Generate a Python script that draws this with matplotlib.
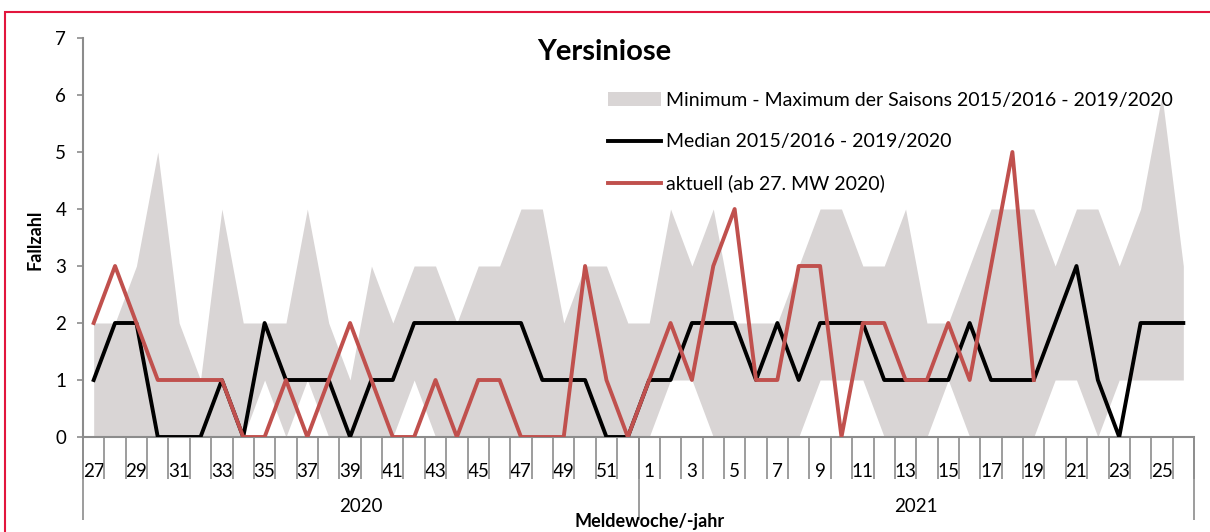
import numpy as np
import matplotlib
matplotlib.use('Agg')
import matplotlib.pyplot as plt
from matplotlib.lines import Line2D
from matplotlib.patches import Patch, Rectangle

plt.rcParams['font.family'] = ['Lato', 'DejaVu Sans']

# Meldewochen 27/2020 - 26/2021
wochen = list(range(27, 53)) + list(range(1, 27))
jahre = ['2020', '2021']

minimum = [0, 0, 0, 0, 0, 0, 0, 0, 1, 0, 1, 0, 0, 0, 0, 1, 0, 0, 0, 0, 0, 0, 0, 0, 0, 0,
           0, 1, 1, 0, 0, 0, 0, 0, 1, 1, 1, 0, 0, 0, 1, 0, 0, 0, 0, 1, 1, 0, 1, 1, 1, 1]
maximum = [2, 2, 3, 5, 2, 1, 4, 2, 2, 2, 4, 2, 1, 3, 2, 3, 3, 2, 3, 3, 4, 4, 2, 3, 3, 2,
           2, 4, 3, 4, 2, 2, 2, 3, 4, 4, 3, 3, 4, 2, 2, 3, 4, 4, 4, 3, 4, 4, 3, 4, 6, 3]
median = [1, 2, 2, 0, 0, 0, 1, 0, 2, 1, 1, 1, 0, 1, 1, 2, 2, 2, 2, 2, 2, 1, 1, 1, 0, 0,
          1, 1, 2, 2, 2, 1, 2, 1, 2, 2, 2, 1, 1, 1, 1, 2, 1, 1, 1, 2, 3, 1, 0, 2, 2, 2]
aktuell = [2, 3, 2, 1, 1, 1, 1, 0, 0, 1, 0, 1, 2, 1, 0, 0, 1, 0, 1, 1, 0, 0, 0, 3, 1, 0,
           1, 2, 1, 3, 4, 1, 1, 3, 3, 0, 2, 2, 1, 1, 2, 1, 3, 5, 1]

W, H = 1210, 532
fig = plt.figure(figsize=(W / 100, H / 100), dpi=100)
ax = fig.add_axes([83 / W, (H - 437) / H, (1194 - 83) / W, (437 - 38) / H])

x = np.arange(len(wochen))
grau = '#d9d5d5'
rot = '#c0504d'
achse = '#8c8c8c'

ax.fill_between(x, minimum, maximum, color=grau, lw=0, zorder=1)
ax.plot(x, median, color='black', lw=2.8, zorder=3)
ax.plot(x[:len(aktuell)], aktuell, color=rot, lw=2.8, zorder=4)

ax.set_xlim(-0.5, len(wochen) - 0.5)
ax.set_ylim(0, 7)
ax.set_yticks(range(0, 8))
ax.tick_params(axis='y', length=4, width=1.2, color=achse, labelsize=13.5, pad=8)

for s in ['top', 'right']:
    ax.spines[s].set_visible(False)
for s in ['left', 'bottom']:
    ax.spines[s].set_color(achse)
    ax.spines[s].set_linewidth(1.5)

# Wochen-Beschriftung (jede zweite)
ax.set_xticks(x[::2])
ax.set_xticklabels([str(w) for w in wochen[::2]])
ax.tick_params(axis='x', which='major', length=0, labelsize=13.5, pad=19)
ax.set_xticks(np.arange(-0.5, len(wochen), 1), minor=True)
ax.tick_params(axis='x', which='minor', length=30, width=1.2, color=achse)

# Jahresebene
sec = ax.secondary_xaxis('bottom')
sec.set_xticks([-0.5, 25.5, len(wochen) - 0.5])
sec.set_xticklabels(['', '', ''])
sec.tick_params(length=60, width=1.2, color=achse)
sec.spines['bottom'].set_visible(False)
for i, j in enumerate(jahre):
    ax.text(12.5 + 26 * i, -70 / 57, j, ha='center', va='center', fontsize=13.5)

fig.text(650 / W, 1 - 521 / H, 'Meldewoche/-jahr', ha='center', va='center',
         fontsize=13, fontweight='bold')
fig.text(35 / W, 1 - 240 / H, 'Fallzahl', ha='center', va='center',
         fontsize=13, fontweight='bold', rotation=90)
fig.text(604 / W, 1 - 52 / H, 'Yersiniose', ha='center', va='center',
         fontsize=21, fontweight='bold')

handles = [Patch(facecolor=grau, edgecolor='none'),
           Line2D([], [], color='black', lw=2.8),
           Line2D([], [], color=rot, lw=2.8)]
labels = ['Minimum - Maximum der Saisons 2015/2016 - 2019/2020',
          'Median 2015/2016 - 2019/2020',
          'aktuell (ab 27. MW 2020)']
fig.legend(handles, labels, loc='upper left', bbox_to_anchor=(608 / W, 1 - 92 / H),
           frameon=False, fontsize=14, handlelength=2.7, handletextpad=0.3,
           labelspacing=1.25, borderpad=0, borderaxespad=0)

fig.patches.append(Rectangle((5 / W, -0.1), 1.2, 1 - 12 / H + 0.1,
                             transform=fig.transFigure, fill=False,
                             edgecolor='#e2163d', lw=1.5))

fig.savefig('out.png', dpi=100)
